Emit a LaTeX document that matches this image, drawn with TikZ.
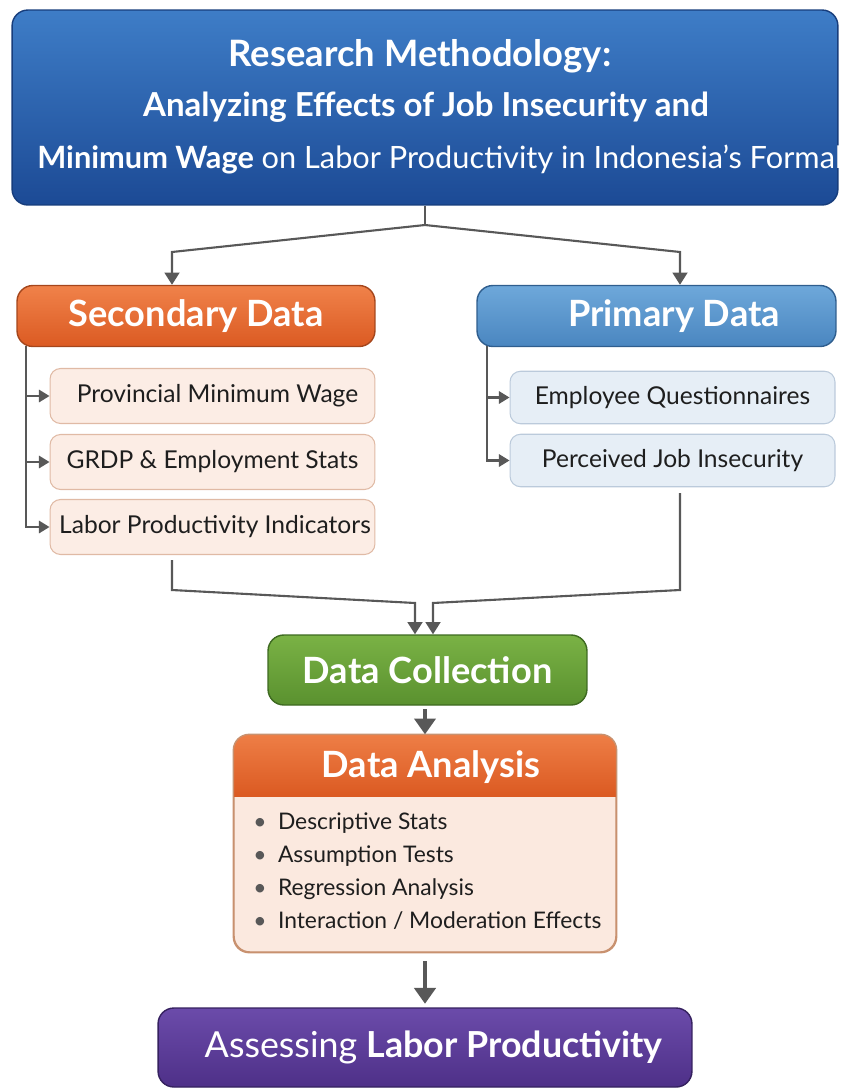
\documentclass[tikz,border=0pt]{standalone}
\usepackage{fontspec}
\setmainfont{Lato}
\usetikzlibrary{arrows.meta}

\definecolor{titletop}{HTML}{3E7DC7}
\definecolor{titlebot}{HTML}{1C4A95}
\definecolor{titleline}{HTML}{173D7C}
\definecolor{sectop}{HTML}{F0824A}
\definecolor{secbot}{HTML}{DB5A22}
\definecolor{secline}{HTML}{A5461C}
\definecolor{primtop}{HTML}{6EA8DA}
\definecolor{primbot}{HTML}{4A86C0}
\definecolor{primline}{HTML}{2F5E8E}
\definecolor{secfill}{HTML}{FCEDE5}
\definecolor{secedge}{HTML}{E0BAA5}
\definecolor{primfill}{HTML}{E6EEF6}
\definecolor{primedge}{HTML}{BBCADB}
\definecolor{colltop}{HTML}{7AB245}
\definecolor{collbot}{HTML}{5A912F}
\definecolor{collline}{HTML}{3E6A21}
\definecolor{anafill}{HTML}{FBE9DF}
\definecolor{anaedge}{HTML}{C8916F}
\definecolor{finaltop}{HTML}{6B4BAA}
\definecolor{finalbot}{HTML}{4E3088}
\definecolor{finalline}{HTML}{35215F}
\definecolor{linegray}{HTML}{585858}
\definecolor{textdark}{HTML}{1E1E1E}

\tikzset{
  box/.style={rounded corners=9pt, draw, line width=0.8pt, inner sep=0pt},
  headtext/.style={text=white, font=\fontsize{20.6}{24}\selectfont\bfseries},
  titletext/.style={text=white, inner sep=0pt},
  itemtext/.style={text=textdark, font=\fontsize{14}{17}\selectfont},
  secitem/.style={box, rounded corners=6pt, fill=secfill, draw=secedge, line width=0.6pt,
    minimum width=6.5cm, minimum height=1.1cm, itemtext},
  primitem/.style={box, rounded corners=6pt, fill=primfill, draw=primedge, line width=0.6pt,
    minimum width=6.5cm, minimum height=1.05cm, itemtext},
  conn/.style={draw=linegray, line width=1.2pt},
  arr/.style={conn, -{Triangle[width=8.5pt,length=7pt]}},
  smallarr/.style={conn, -{Triangle[width=7pt,length=6pt]}},
  bigarr/.style={draw=linegray, line width=2.6pt, -{Triangle[width=12pt,length=9pt]}}
}

\begin{document}
\begin{tikzpicture}[x=0.02cm, y=-0.02cm]
\useasboundingbox (0,0) rectangle (841,1089);

% title block
\node[box, top color=titletop, bottom color=titlebot, draw=titleline,
  minimum width=16.52cm, minimum height=3.9cm] (title) at (425,107.5) {};
\begin{scope}
\clip[rounded corners=9pt] (title.south west) rectangle (title.north east);
\node[titletext, font=\fontsize{20.7}{24}\selectfont\bfseries] (title1) at (420,56) {Research Methodology:};
\node[titletext, font=\fontsize{18.8}{22}\selectfont\bfseries] (title2) at (426,107) {Analyzing Effects of Job Insecurity and};
\node[titletext, anchor=west, font=\fontsize{17.5}{21}\selectfont] (title3) at (37,160)
  {\textbf{Minimum Wage} on Labor Productivity in Indonesia’s Formal};
\end{scope}

% the two data sources
\node[box, top color=sectop, bottom color=secbot, draw=secline,
  minimum width=7.16cm, minimum height=1.22cm, headtext] (sec) at (196,316) {Secondary Data};
\node[box, top color=primtop, bottom color=primbot, draw=primline,
  minimum width=7.18cm, minimum height=1.22cm, headtext] (prim) at (656.5,316) {\hspace{0.7cm}Primary Data};

\node[secitem] (pmw) at (212.5,396) {\hspace{0.2cm}Provincial Minimum Wage};
\node[secitem] (grdp) at (212.5,462) {GRDP \& Employment Stats};
\node[secitem] (lpi) at (212.5,527) {\hspace{0.1cm}Labor Productivity Indicators};

\node[primitem] (quest) at (672.5,397.5) {Employee Questionnaires};
\node[primitem] (pji) at (672.5,460.5) {Perceived Job Insecurity};

% collection, analysis, outcome
\node[box, top color=colltop, bottom color=collbot, draw=collline,
  minimum width=6.38cm, minimum height=1.4cm, headtext] (coll) at (427.5,670) {Data Collection};

\node[box, fill=anafill, draw=anaedge, minimum width=7.64cm, minimum height=4.34cm] (ana) at (425,843.5) {};
\begin{scope}
\clip[rounded corners=9pt] (ana.south west) rectangle (ana.north east);
\fill[top color=sectop!90!secbot, bottom color=secbot] (ana.north west) rectangle (616,796);
\end{scope}
\draw[anaedge, line width=0.8pt, rounded corners=9pt] (ana.south west) rectangle (ana.north east);
\node[headtext] (anahead) at (431,767) {Data Analysis};
\node[itemtext, anchor=west, align=left, inner sep=0pt,
  font=\fontsize{13}{18.7}\selectfont] (analist) at (253,871)
  {{\color{linegray}\textbullet}\enspace Descriptive Stats\\
   {\color{linegray}\textbullet}\enspace Assumption Tests\\
   {\color{linegray}\textbullet}\enspace Regression Analysis\\
   {\color{linegray}\textbullet}\enspace Interaction / Moderation Effects};

\node[box, top color=finaltop, bottom color=finalbot, draw=finalline,
  minimum width=10.68cm, minimum height=1.58cm, text=white,
  font=\fontsize{20.4}{24}\selectfont] (final) at (425,1047.5)
  {\hspace{0.35cm}Assessing \textbf{Labor Productivity}};

% split from the title
\coordinate (split) at (425,225);
\coordinate (secbend) at (172,252);
\coordinate (primbend) at (680,252);
\draw[conn] (title.south) -- (split);
\draw[arr] (split) -- (secbend) -- (secbend |- sec.north);
\draw[arr] (split) -- (primbend) -- (primbend |- prim.north);

% branches into the items
\coordinate (sectrunk) at (26,346);
\coordinate (primtrunk) at (487,346);
\draw[smallarr] (sectrunk) |- (pmw.west);
\draw[smallarr] (sectrunk) |- (grdp.west);
\draw[smallarr] (sectrunk) |- (lpi.west);
\draw[smallarr] (primtrunk) |- (quest.west);
\draw[smallarr] (primtrunk) |- (pji.west);

% merge into data collection
\coordinate (secout) at (172,560);
\coordinate (secdown) at (172,590);
\coordinate (secin) at (415,603);
\coordinate (primout) at (680,493);
\coordinate (primdown) at (680,590);
\coordinate (primin) at (433,603);
\draw[arr] (secout) -- (secdown) -- (secin) -- (secin |- coll.north);
\draw[arr] (primout) -- (primdown) -- (primin) -- (primin |- coll.north);

\draw[bigarr, shorten <=2pt] (coll.south -| 425,0) -- (ana.north -| 425,0);
\draw[bigarr, shorten <=5pt, shorten >=2pt] (ana.south) -- (final.north);
\end{tikzpicture}
\end{document}
